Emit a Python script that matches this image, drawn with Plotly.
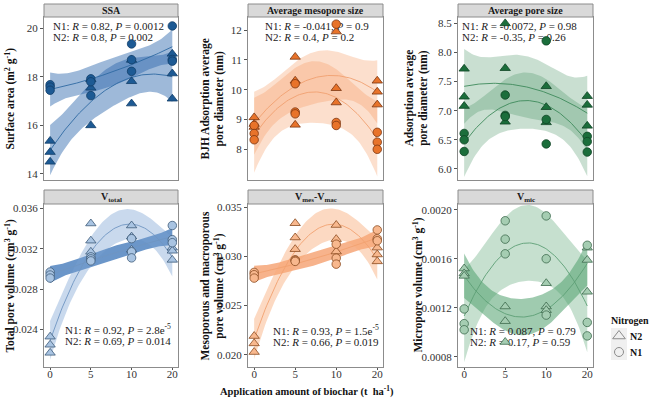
import numpy as np
import plotly.graph_objects as go

# ---------------- data ----------------
doses = ["0", "5", "10", "20"]

ssa_n1 = [17.68, 17.58, 17.45, 17.92, 17.80, 17.23, 19.36, 18.71, 18.23, 20.10, 18.72, 18.65]
ssa_n2 = [15.36, 14.90, 14.50, 17.90, 17.55, 16.00, 18.70, 17.82, 16.90, 18.95, 18.14, 17.10]

meso_n1 = [8.80, 8.53, 8.32, 10.20, 9.25, 9.19, 12.20, 8.90, 8.80, 8.57, 8.24, 8.00]
meso_n2 = [9.07, 8.85, 8.75, 11.10, 10.30, 8.82, 11.95, 10.05, 9.57, 10.30, 9.93, 9.50]

pore_n1 = [6.61, 6.50, 6.30, 7.27, 6.92, 6.90, 8.20, 6.85, 6.43, 6.56, 6.47, 6.29]
pore_n2 = [7.72, 7.24, 7.08, 8.50, 7.73, 6.81, 7.42, 7.06, 6.80, 7.25, 7.10, 6.74]

vtot_n1 = [0.0297, 0.0294, 0.0291, 0.0312, 0.0310, 0.0308, 0.0330, 0.0317, 0.0311, 0.0343, 0.0329, 0.0326]
vtot_n2 = [0.0233, 0.0225, 0.0217, 0.0345, 0.0328, 0.0317, 0.0343, 0.0332, 0.0319, 0.0321, 0.0318, 0.0309]

vmes_n1 = [0.02838, 0.02814, 0.02780, 0.02966, 0.02960, 0.02950, 0.03125, 0.02983, 0.02922, 0.03270, 0.03180, 0.03160]
vmes_n2 = [0.02190, 0.02115, 0.02027, 0.03338, 0.03193, 0.03074, 0.03320, 0.03176, 0.03050, 0.03090, 0.03020, 0.02950]

vmic_n1 = [0.00119, 0.00107, 0.00102, 0.00191, 0.00176, 0.00164, 0.00195, 0.00160, 0.00114, 0.00171, 0.00108, 0.00097]
vmic_n2 = [0.00152, 0.00148, 0.00146, 0.00121, 0.00109, 0.00092, 0.00140, 0.00121, 0.00118, 0.00169, 0.00159, 0.00133]

titles = ["SSA", "Average mesopore size", "Average pore size",
          "V<sub>total</sub>", "V<sub>mes</sub>-V<sub>mac</sub>", "V<sub>mic</sub>"]
ytitles = ["Surface area (m<sup>2</sup> g<sup>-1</sup>)",
           "BJH Adsorption average<br>pore diameter (nm)",
           "Adsorption average<br>pore diameter (nm)",
           "Total pore volume (cm<sup>3</sup> g<sup>-1</sup>)",
           "Mesoporous and macroporous<br>pore volume (cm<sup>3</sup> g<sup>-1</sup>)",
           "Micropore volume (cm<sup>3</sup> g<sup>-1</sup>)"]
stats = [("N1: <i>R</i> = 0.82, <i>P</i> = 0.0012", "N2: <i>R</i> = 0.8, <i>P</i> = 0.002"),
         ("N1: <i>R</i> = -0.041, <i>P</i> = 0.9", "N2: <i>R</i> = 0.4, <i>P</i> = 0.2"),
         ("N1: <i>R</i> = -0.0072, <i>P</i> = 0.98", "N2: <i>R</i> = -0.35, <i>P</i> = 0.26"),
         ("N1: <i>R</i> = 0.92, <i>P</i> = 2.8e<sup>-5</sup>", "N2: <i>R</i> = 0.69, <i>P</i> = 0.014"),
         ("N1: <i>R</i> = 0.93, <i>P</i> = 1.5e<sup>-5</sup>", "N2: <i>R</i> = 0.66, <i>P</i> = 0.019"),
         ("N1: <i>R</i> = 0.087, <i>P</i> = 0.79", "N2: <i>R</i> = 0.17, <i>P</i> = 0.59")]
xtitle = "Application amount of biochar (t  ha<sup>-1</sup>)"
legend_title = "Nitrogen"
legend_labels = ["N2", "N1"]

panels = [(ssa_n1, ssa_n2), (meso_n1, meso_n2), (pore_n1, pore_n2),
          (vtot_n1, vtot_n2), (vmes_n1, vmes_n2), (vmic_n1, vmic_n2)]

# ---------------- styling ----------------
W, H = 650, 398
FONT = "Liberation Serif"
xdom = [(44/W, 178/W), (248/W, 383/W), (458/W, 593/W)]
ydom = [(1-180/H, 1-17/H), (1-367/H, 1-204/H)]
stripH = [13/H, 14/H]
XR = [0.85, 4.14]
yranges = [[13.75, 20.47], [6.97, 12.44], [5.81, 8.61],
           [0.0203, 0.03643], [0.01875, 0.03534], [0.000716, 0.002047]]
ytickv = [[14, 16, 18, 20], [8, 9, 10, 11, 12], [6.0, 6.5, 7.0, 7.5, 8.0, 8.5],
          [0.024, 0.028, 0.032, 0.036], [0.020, 0.025, 0.030, 0.035],
          [0.0008, 0.0012, 0.0016, 0.0020]]
ytickf = ["d", "d", ".1f", ".3f", ".3f", ".4f"]
mk_fill = ["#1D5A94", "#E8732A", "#1B6E3B", "#A9C4E2", "#F8B88E", "#A5CDB2"]
mk_line = ["#123E68", "#7A3510", "#0F4424", "#3E5A78", "#8A4A20", "#3C6A4C"]
line_col = ["#2F6AA3", "#F0A070", "#3E8A5B", "#6F95C2", "#F2A271", "#5E9F76"]
band_n1 = ["rgba(40,100,170,0.45)", "rgba(246,150,90,0.30)", "rgba(60,140,90,0.28)",
           "rgba(50,110,180,0.72)", "rgba(244,150,95,0.72)", "rgba(120,180,140,0.42)"]
band_n2 = ["rgba(40,100,170,0.45)", "rgba(246,150,90,0.30)", "rgba(60,140,90,0.28)",
           "rgba(120,160,210,0.40)", "rgba(248,170,120,0.45)", "rgba(80,160,110,0.55)"]
# stat text: left edge (fraction of panel width) and first-line centre (fraction of height)
stat_pos = [(0.067, 0.937), (0.126, 0.937), (0.03, 0.937), (0.157, 0.221), (0.185, 0.215), (0.089, 0.215)]
ytitle_x = [10/W, 212/W, 416/W, 10/W, 212/W, 418/W]
T975 = 2.262  # t quantile, df = 12 - 3

xpos = np.repeat(np.arange(1, 5), 3).astype(float)


def quad_band(x, y, xs):
    X = np.vstack([np.ones_like(x), x, x**2]).T
    beta = np.linalg.lstsq(X, y, rcond=None)[0]
    r = y - X @ beta
    s2 = r @ r / (len(y) - 3)
    XtXi = np.linalg.inv(X.T @ X)
    Xs = np.vstack([np.ones_like(xs), xs, xs**2]).T
    yh = Xs @ beta
    se = np.sqrt(np.einsum("ij,jk,ik->i", Xs, XtXi, Xs) * s2)
    return yh, yh - T975 * se, yh + T975 * se


fig = go.Figure()
xs = np.linspace(1, 4, 80)
layout = dict(width=W, height=H, margin=dict(l=0, r=0, t=0, b=0, autoexpand=False),
              paper_bgcolor="white", plot_bgcolor="white", showlegend=False,
              font=dict(family=FONT, size=11, color="#222"))
shapes, annots = [], []

for i, (n1, n2) in enumerate(panels):
    r, c = divmod(i, 3)
    k = i + 1
    xa = "x" if k == 1 else f"x{k}"
    ya = "y" if k == 1 else f"y{k}"
    fits = [quad_band(xpos, np.array(v), xs) for v in (n1, n2)]
    for (yh, lo, hi), band in zip(fits, (band_n1[i], band_n2[i])):
        fig.add_trace(go.Scatter(x=np.concatenate([xs, xs[::-1]]), y=np.concatenate([hi, lo[::-1]]),
                                 fill="toself", fillcolor=band, line=dict(width=0),
                                 mode="lines", hoverinfo="skip", xaxis=xa, yaxis=ya))
    for (yh, lo, hi) in fits:
        fig.add_trace(go.Scatter(x=xs, y=yh, mode="lines", line=dict(color=line_col[i], width=0.9),
                                 hoverinfo="skip", xaxis=xa, yaxis=ya))
    # stats text, drawn beneath the markers
    sx, sy = stat_pos[i]
    yr = yranges[i]
    for j, s in enumerate(stats[i]):
        ytxt = yr[0] + (sy - j * 0.068) * (yr[1] - yr[0])
        fig.add_trace(go.Scatter(x=[XR[0] + sx * (XR[1] - XR[0])], y=[ytxt], mode="text",
                                 text=[s], textposition="middle right",
                                 textfont=dict(family=FONT, size=11, color="#222"),
                                 hoverinfo="skip", xaxis=xa, yaxis=ya))
    for vals, sym in ((n2, "triangle-up"), (n1, "circle")):
        fig.add_trace(go.Scatter(x=xpos, y=vals, mode="markers",
                                 marker=dict(symbol=sym, size=8.5 if sym == "circle" else 9,
                                             color=mk_fill[i], line=dict(color=mk_line[i], width=0.8)),
                                 xaxis=xa, yaxis=ya))
    axname_x = "xaxis" if k == 1 else f"xaxis{k}"
    axname_y = "yaxis" if k == 1 else f"yaxis{k}"
    layout[axname_x] = dict(domain=list(xdom[c]), range=XR, anchor=ya,
                            tickvals=[1, 2, 3, 4], ticktext=doses,
                            showticklabels=(r == 1), ticks="outside" if r == 1 else "",
                            ticklen=2, tickcolor="#555", showgrid=False, zeroline=False,
                            ticklabelstandoff=-5,
                            showline=True, mirror=True, linecolor="#8C8C8C", linewidth=1,
                            tickfont=dict(family=FONT, size=11, color="#333"))
    layout[axname_y] = dict(domain=list(ydom[r]), range=yranges[i], anchor=xa,
                            tickvals=ytickv[i], tickformat=ytickf[i],
                            ticks="outside", ticklen=3, tickcolor="#555",
                            showgrid=False, zeroline=False, showline=True, mirror=True,
                            linecolor="#8C8C8C", linewidth=1,
                            tickfont=dict(family=FONT, size=11, color="#333"))
    # strip
    y0 = ydom[r][1]
    shapes.append(dict(type="rect", xref="paper", yref="paper", x0=xdom[c][0], x1=xdom[c][1],
                       y0=y0, y1=y0 + stripH[r], fillcolor="#D9D9D9",
                       line=dict(color="#8C8C8C", width=1), layer="above"))
    annots.append(dict(xref="paper", yref="paper", x=(xdom[c][0] + xdom[c][1]) / 2,
                       y=y0 + stripH[r] / 2, text=f"<b>{titles[i]}</b>", showarrow=False,
                       font=dict(family=FONT, size=10, color="#1A1A1A"),
                       xanchor="center", yanchor="middle"))
    # y title
    annots.append(dict(xref="paper", yref="paper", x=ytitle_x[i], y=(ydom[r][0] + ydom[r][1]) / 2,
                       text=f"<b>{ytitles[i]}</b>", textangle=-90, showarrow=False,
                       font=dict(family=FONT, size=11.5, color="#111"),
                       xanchor="center", yanchor="middle"))

annots.append(dict(xref="paper", yref="paper", x=307/W, y=1-391/H,
                   text=f"<b>{xtitle}</b>", showarrow=False,
                   font=dict(family=FONT, size=10.5, color="#111"), xanchor="center", yanchor="middle"))

# ---------------- manual legend (own hidden axis) ----------------
layout["xaxis7"] = dict(domain=[606/W, 650/W], range=[0, 1], visible=False, anchor="y7", fixedrange=True)
layout["yaxis7"] = dict(domain=[1-362/H, 1-312/H], range=[0, 1], visible=False, anchor="x7", fixedrange=True)
annots.append(dict(xref="paper", yref="paper", x=609/W, y=1-320/H, text=f"<b>{legend_title}</b>",
                   showarrow=False, font=dict(family=FONT, size=10, color="#111"),
                   xanchor="left", yanchor="middle"))
for j, (lab, sym) in enumerate(zip(legend_labels, ("triangle-up-open", "circle-open"))):
    yc = 1 - (336 + 16 * j) / H
    shapes.append(dict(type="rect", xref="paper", yref="paper", x0=611/W, x1=627/W,
                       y0=yc - 8/H, y1=yc + 8/H, fillcolor="#F0F0F0", line=dict(width=0), layer="below"))
    annots.append(dict(xref="paper", yref="paper", x=628/W, y=yc, text=f"<b>{lab}</b>",
                       showarrow=False, font=dict(family=FONT, size=10, color="#111"),
                       xanchor="left", yanchor="middle"))
    fig.add_trace(go.Scatter(x=[(619 - 606) / 44], y=[(yc - (1 - 362/H)) / (50/H)], mode="markers",
                             marker=dict(symbol=sym, size=11 if j == 0 else 9, color="#8C8C8C",
                                         line=dict(width=1)),
                             hoverinfo="skip", xaxis="x7", yaxis="y7"))

layout["shapes"] = shapes
layout["annotations"] = annots
fig.update_layout(**layout)
fig.write_html("out.html", config={"displayModeBar": False},
               post_script="document.body.style.margin='0';document.body.style.overflow='hidden';")
